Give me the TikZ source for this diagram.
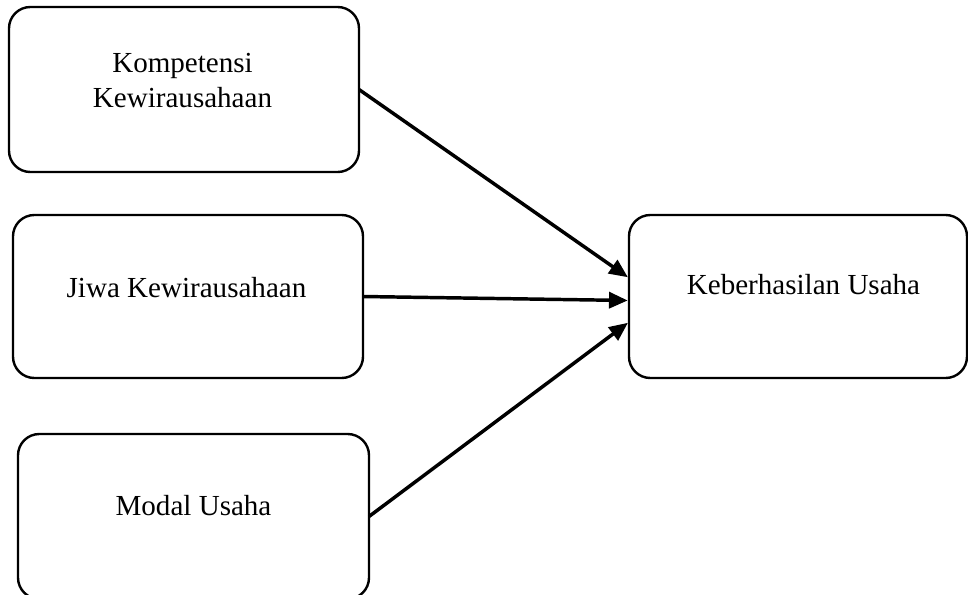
\documentclass[tikz,border=0pt]{standalone}
\usepackage{fontspec}
\setmainfont{Liberation Serif}
\usetikzlibrary{arrows.meta,calc}
\begin{document}
\begin{tikzpicture}[x=0.75pt,y=-0.75pt,
  box/.style={draw, line width=1.8pt, rounded corners=16pt, inner sep=0pt, outer sep=0pt},
  lbl/.style={anchor=base, inner sep=0pt, font=\fontsize{21.8}{26}\selectfont},
  conn/.style={line width=2.6pt, -{Triangle[length=14pt,width=12pt]}, shorten >=1pt}]
\useasboundingbox (0,0) rectangle (968,594);
\node[box, minimum width=262.5pt, minimum height=123.75pt] (b1) at (184,89.5) {};
\node[box, minimum width=262.5pt, minimum height=122.25pt] (b2) at (188,296.5) {};
\node[box, minimum width=263.25pt, minimum height=123.75pt] (b3) at (193.5,516.5) {};
\node[box, minimum width=253.5pt, minimum height=122.25pt] (b4) at (798,296.5) {};
\node[lbl] (t1a) at (182.5,72) {Kompetensi};
\node[lbl] (t1b) at (182.5,107) {Kewirausahaan};
\node[lbl] (t2) at (186.5,297) {Jiwa Kewirausahaan};
\node[lbl] (t3) at (193.5,515) {Modal Usaha};
\node[lbl] (t4) at (803.5,294) {Keberhasilan Usaha};
\draw[conn] (b1.east) -- ($(b4.west)+(0,-18.5)$);
\draw[conn] (b2.east) -- ($(b4.west)+(0,4)$);
\draw[conn] (b3.east) -- ($(b4.west)+(0,25.5)$);
\end{tikzpicture}
\end{document}
